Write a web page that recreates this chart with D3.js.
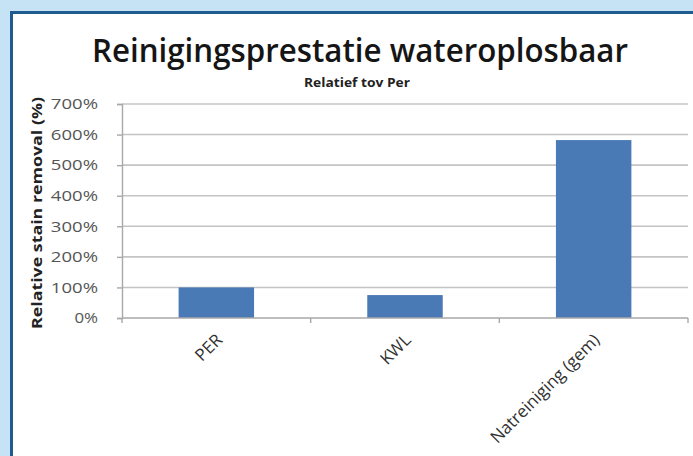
<!DOCTYPE html>
<html>
<head>
<meta charset="utf-8">
<script src="https://cdn.jsdelivr.net/npm/d3@7"></script>
<style>
  html, body { margin: 0; padding: 0; background: #c6e3f6; }
  svg { display: block; }
</style>
</head>
<body>
<script>
// Chart data
const categories = ["PER", "KWL", "Natreiniging (gem)"];
const values = [100, 75, 582];
const yTicks = [0, 100, 200, 300, 400, 500, 600, 700];

const W = 693, H = 456;
const svg = d3.select("body").append("svg").attr("width", W).attr("height", H);

// Outer background and framed white panel
svg.append("rect").attr("width", W).attr("height", H).attr("fill", "#c6e3f6");
svg.append("rect").attr("x", 11.5).attr("y", 12.5).attr("width", W + 20).attr("height", H + 20)
  .attr("fill", "#fff").attr("stroke", "#1f5b8f").attr("stroke-width", 3);

const plot = { left: 122, right: 688, top: 104, bottom: 318 };

const x = d3.scaleBand().domain(categories).range([plot.left, plot.right]).paddingInner(0.6).paddingOuter(0.3);
const xBand = d3.scaleBand().domain(categories).range([plot.left, plot.right]);
const y = d3.scaleLinear().domain([0, 700]).range([plot.bottom, plot.top]);

const font = "'Open Sans', Lato, sans-serif";

// Title and subtitle
svg.append("text").attr("x", 360).attr("y", 62).attr("text-anchor", "middle")
  .attr("font-family", font).attr("font-weight", 600).attr("font-size", 33)
  .attr("fill", "#151515").attr("textLength", 536).attr("lengthAdjust", "spacingAndGlyphs")
  .text("Reinigingsprestatie wateroplosbaar");
svg.append("text").attr("x", 357).attr("y", 87).attr("text-anchor", "middle")
  .attr("font-family", font).attr("font-weight", 700).attr("font-size", 11.5)
  .attr("fill", "#222").attr("textLength", 106).attr("lengthAdjust", "spacingAndGlyphs")
  .text("Relatief tov Per");

// Gridlines
svg.append("g").selectAll("line").data(yTicks.slice(1)).join("line")
  .attr("x1", plot.left).attr("x2", plot.right)
  .attr("y1", d => y(d)).attr("y2", d => y(d))
  .attr("stroke", "#c4c4c4").attr("stroke-width", 1.6);

// Y axis
const yAxis = svg.append("g").attr("transform", `translate(${plot.left},0)`)
  .call(d3.axisLeft(y).tickValues(yTicks).tickFormat(d => d + "%").tickSize(5).tickPadding(19));
yAxis.select(".domain").attr("stroke", "#a8a8a8").attr("stroke-width", 1.4);
yAxis.selectAll(".tick line").attr("stroke", "#a8a8a8").attr("stroke-width", 1.4);
yAxis.selectAll(".tick text").attr("font-family", font).attr("font-size", 15)
  .attr("fill", "#555").attr("textLength", d => (String(d).length + 1) * 11.8)
  .attr("lengthAdjust", "spacingAndGlyphs");

// Y axis title
svg.append("text").attr("transform", "translate(37,213) rotate(-90)").attr("text-anchor", "middle")
  .attr("dy", "0.35em")
  .attr("font-family", font).attr("font-weight", 700).attr("font-size", 15).attr("fill", "#222")
  .attr("textLength", 232).attr("lengthAdjust", "spacingAndGlyphs")
  .text("Relative stain removal (%)");

// Bars
svg.append("g").selectAll("rect").data(categories).join("rect")
  .attr("x", d => x(d)).attr("width", x.bandwidth())
  .attr("y", (d, i) => y(values[i])).attr("height", (d, i) => y(0) - y(values[i]))
  .attr("fill", "#4a7ab5");

// X axis line with ticks at category boundaries
const xg = svg.append("g");
xg.append("line").attr("x1", plot.left).attr("x2", plot.right).attr("y1", plot.bottom).attr("y2", plot.bottom)
  .attr("stroke", "#a8a8a8").attr("stroke-width", 1.4);
const bounds = categories.map(c => xBand(c)).concat([plot.right]);
xg.selectAll("line.tk").data(bounds).join("line").attr("class", "tk")
  .attr("x1", d => d).attr("x2", d => d).attr("y1", plot.bottom).attr("y2", plot.bottom + 5)
  .attr("stroke", "#a8a8a8").attr("stroke-width", 1.4);

// Rotated category labels
xg.selectAll("text").data(categories).join("text")
  .attr("transform", d => `translate(${xBand(d) + xBand.bandwidth() / 2 + 7},${plot.bottom + 23}) rotate(-45)`)
  .attr("text-anchor", "end")
  .attr("font-family", font).attr("font-size", 17).attr("fill", "#303030")
  .text(d => d);
</script>
</body>
</html>
